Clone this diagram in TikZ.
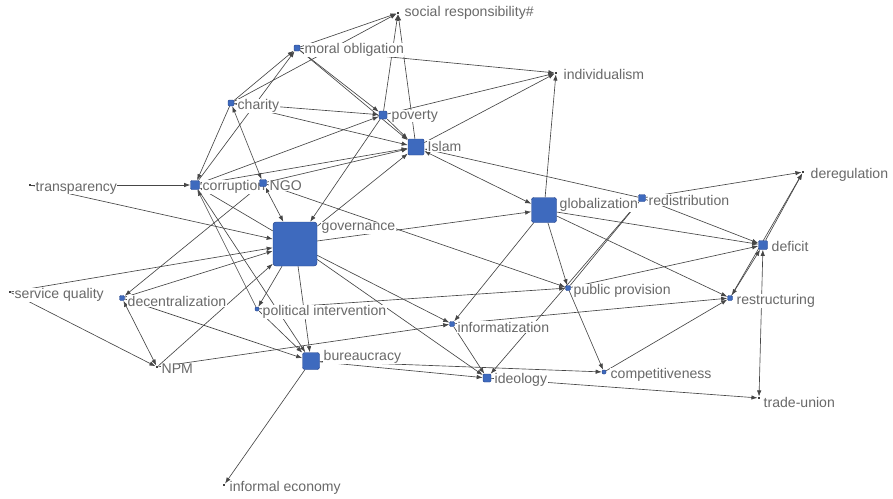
\documentclass[tikz,border=0pt]{standalone}
\usepackage{fontspec}
\setmainfont{Liberation Sans}
\usepackage{xcolor}
\usepackage{tikz}
\usetikzlibrary{arrows.meta,positioning}
\definecolor{nodeblue}{RGB}{62,106,190}
\definecolor{nodeedge}{RGB}{38,68,138}
\definecolor{labelgray}{RGB}{105,105,105}
\definecolor{linegray}{RGB}{70,70,70}
\pgfdeclarelayer{edges}
\pgfsetlayers{edges,main}

\begin{document}
\begin{tikzpicture}[x=0.03cm, y=-0.03cm,
    actor/.style={draw=nodeedge, fill=nodeblue, rounded corners=1pt, inner sep=0pt, line width=0.4pt},
    dot/.style={fill=black!75, inner sep=0pt, minimum size=0.75mm},
    lbl/.style={anchor=west, fill=white, inner sep=0.4pt, text=labelgray, font=\fontsize{12}{12}\selectfont},
    tie/.style={draw=linegray, line width=0.55pt, -{Latex[length=5.2pt,width=3.8pt]}},
    twoway/.style={draw=linegray, line width=0.55pt, {Latex[length=5.2pt,width=3.8pt]}-{Latex[length=5.2pt,width=3.8pt]}}]
    \useasboundingbox (0,0) rectangle (893,498);

    % Labels
    \node[lbl] (socL) at (404,13) {social responsibility\#};
    \node[lbl] (morL) at (304,50) {moral obligation};
    \node[lbl] (indL) at (563,74) {individualism};
    \node[lbl] (chaL) at (237,106) {charity};
    \node[lbl] (povL) at (391,116) {poverty};
    \node[lbl] (islL) at (427,146) {Islam};
    \node[lbl] (traL) at (35,188) {transparency};
    \node[lbl] (corL) at (202,187) {corruption};
    \node[lbl] (ngoL) at (269,186) {NGO};
    \node[lbl] (govL) at (321,228) {governance};
    \node[lbl] (gloL) at (559,205) {globalization};
    \node[lbl] (redL) at (648,200) {redistribution};
    \node[lbl] (derL) at (810,175) {deregulation};
    \node[lbl] (defL) at (771,246) {deficit};
    \node[lbl] (serL) at (14,295) {service quality};
    \node[lbl] (decL) at (127,301) {decentralization};
    \node[lbl] (polL) at (262,312) {political intervention};
    \node[lbl] (pubL) at (573,291) {public provision};
    \node[lbl] (resL) at (736,301) {restructuring};
    \node[lbl] (infL) at (457,327) {informatization};
    \node[lbl] (npmL) at (161,369) {NPM};
    \node[lbl] (burL) at (323,357) {bureaucracy};
    \node[lbl] (ideL) at (494,380) {ideology};
    \node[lbl] (comL) at (610,375) {competitiveness};
    \node[lbl] (truL) at (763,402) {trade-union};
    \node[lbl] (ifeL) at (229,488) {informal economy};

    % Actors
    \node[dot] (soc) at (398,13) {};
    \node[actor, minimum size=1.8mm] (mor) at (297,48) {};
    \node[dot] (ind) at (556,73) {};
    \node[actor, minimum size=1.8mm] (cha) at (231,103) {};
    \node[actor, minimum size=2.4mm] (pov) at (383,115) {};
    \node[actor, minimum size=4.8mm] (isl) at (416,147) {};
    \node[dot] (tra) at (30,185) {};
    \node[actor, minimum size=2.7mm] (cor) at (195,185) {};
    \node[actor, minimum size=2.1mm] (ngo) at (263,183) {};
    \node[actor, minimum size=13.2mm, rounded corners=2.5pt] (gov) at (295,244) {};
    \node[actor, minimum size=7.5mm, rounded corners=2pt] (glo) at (544,210) {};
    \node[actor, minimum size=2.1mm] (red) at (642,198) {};
    \node[dot] (der) at (803,172) {};
    \node[actor, minimum size=2.7mm] (def) at (763,245) {};
    \node[dot] (ser) at (10,292) {};
    \node[actor, minimum size=1.5mm] (dec) at (122,298) {};
    \node[actor, minimum size=1.2mm] (pol) at (257,309) {};
    \node[actor, minimum size=1.5mm] (pub) at (568,288) {};
    \node[actor, minimum size=1.5mm] (res) at (730,298) {};
    \node[actor, minimum size=1.5mm] (inf) at (452,324) {};
    \node[dot] (npm) at (157,367) {};
    \node[actor, minimum size=5.1mm, rounded corners=1.5pt] (bur) at (311,361) {};
    \node[actor, minimum size=2.4mm] (ide) at (487,378) {};
    \node[actor, minimum size=1.2mm] (com) at (604,372) {};
    \node[dot] (tru) at (759,398) {};
    \node[dot] (ife) at (224,485) {};

    \begin{pgfonlayer}{edges}
    % Top cluster
    \draw[tie] (mor) -- (soc);
    \draw[tie] (cha) -- (soc);
    \draw[tie] (pov) -- (soc);
    \draw[tie] (isl) -- (soc);
    \draw[tie] (cha) -- (mor);
    \draw[tie] (cor) -- (mor);
    \draw[tie] (mor) -- (pov);
    \draw[tie] (mor) -- (isl);
    \draw[tie] (mor) -- (ind);
    \draw[tie] (pov) -- (ind);
    \draw[tie] (isl) -- (ind);
    \draw[tie] (glo) -- (ind);
    \draw[tie] (cha) -- (pov);
    \draw[tie] (cha) -- (isl);
    \draw[tie] (cha) -- (cor);
    \draw[twoway] (cha) -- (ngo);
    \draw[tie] (pov) -- (isl);
    \draw[tie] (cor) -- (pov);
    \draw[tie] (cor) -- (isl);
    \draw[tie] (ngo) -- (isl);
    \draw[tie] (pov) -- (gov);
    \draw[tie] (gov) -- (isl);
    \draw[twoway] (glo) -- (isl);
    \draw[tie] (red) -- (isl);

    % Corruption and NGO
    \draw[tie] (tra) -- (cor);
    \draw[tie] (gov) -- (cor);
    \draw[tie] (pol) -- (cor);
    \draw[tie] (cor) -- (bur);
    \draw[tie] (ngo) -- (dec);
    \draw[twoway] (ngo) -- (gov);
    \draw[tie] (ngo) -- (pub);

    % Governance
    \draw[tie] (tra) -- (gov);
    \draw[tie] (ser) -- (gov);
    \draw[tie] (dec) -- (gov);
    \draw[tie] (npm) -- (gov);
    \draw[tie] (gov) -- (glo);
    \draw[tie] (gov) -- (inf);
    \draw[tie] (gov) -- (ide);
    \draw[tie] (gov) -- (bur);
    \draw[tie] (gov) -- (pol);

    % Lower left
    \draw[tie] (ser) -- (npm);
    \draw[twoway] (dec) -- (npm);
    \draw[tie] (dec) -- (bur);
    \draw[tie] (npm) -- (inf);
    \draw[tie] (pol) -- (bur);
    \draw[tie] (pol) -- (pub);
    \draw[tie] (bur) -- (ide);
    \draw[tie] (bur) -- (com);
    \draw[tie] (bur) -- (ife);
    \draw[tie] (inf) -- (ide);
    \draw[tie] (ide) -- (tru);

    % Globalization and right side
    \draw[tie] (glo) -- (pub);
    \draw[tie] (glo) -- (inf);
    \draw[tie] (glo) -- (def);
    \draw[tie] (glo) -- (res);
    \draw[tie] (red) -- (der);
    \draw[tie] (red) -- (def);
    \draw[tie] (red) -- (ide);
    \draw[tie] (pub) -- (red);
    \draw[tie] (pub) -- (com);
    \draw[tie] (pub) -- (def);
    \draw[tie] (inf) -- (res);
    \draw[tie] (com) -- (res);
    \draw[twoway] (res) -- (def);
    \draw[tie] (res) -- (der);
    \draw[tie] (def) -- (der);
    \draw[twoway] (tru) -- (def);
    \end{pgfonlayer}
\end{tikzpicture}
\end{document}
